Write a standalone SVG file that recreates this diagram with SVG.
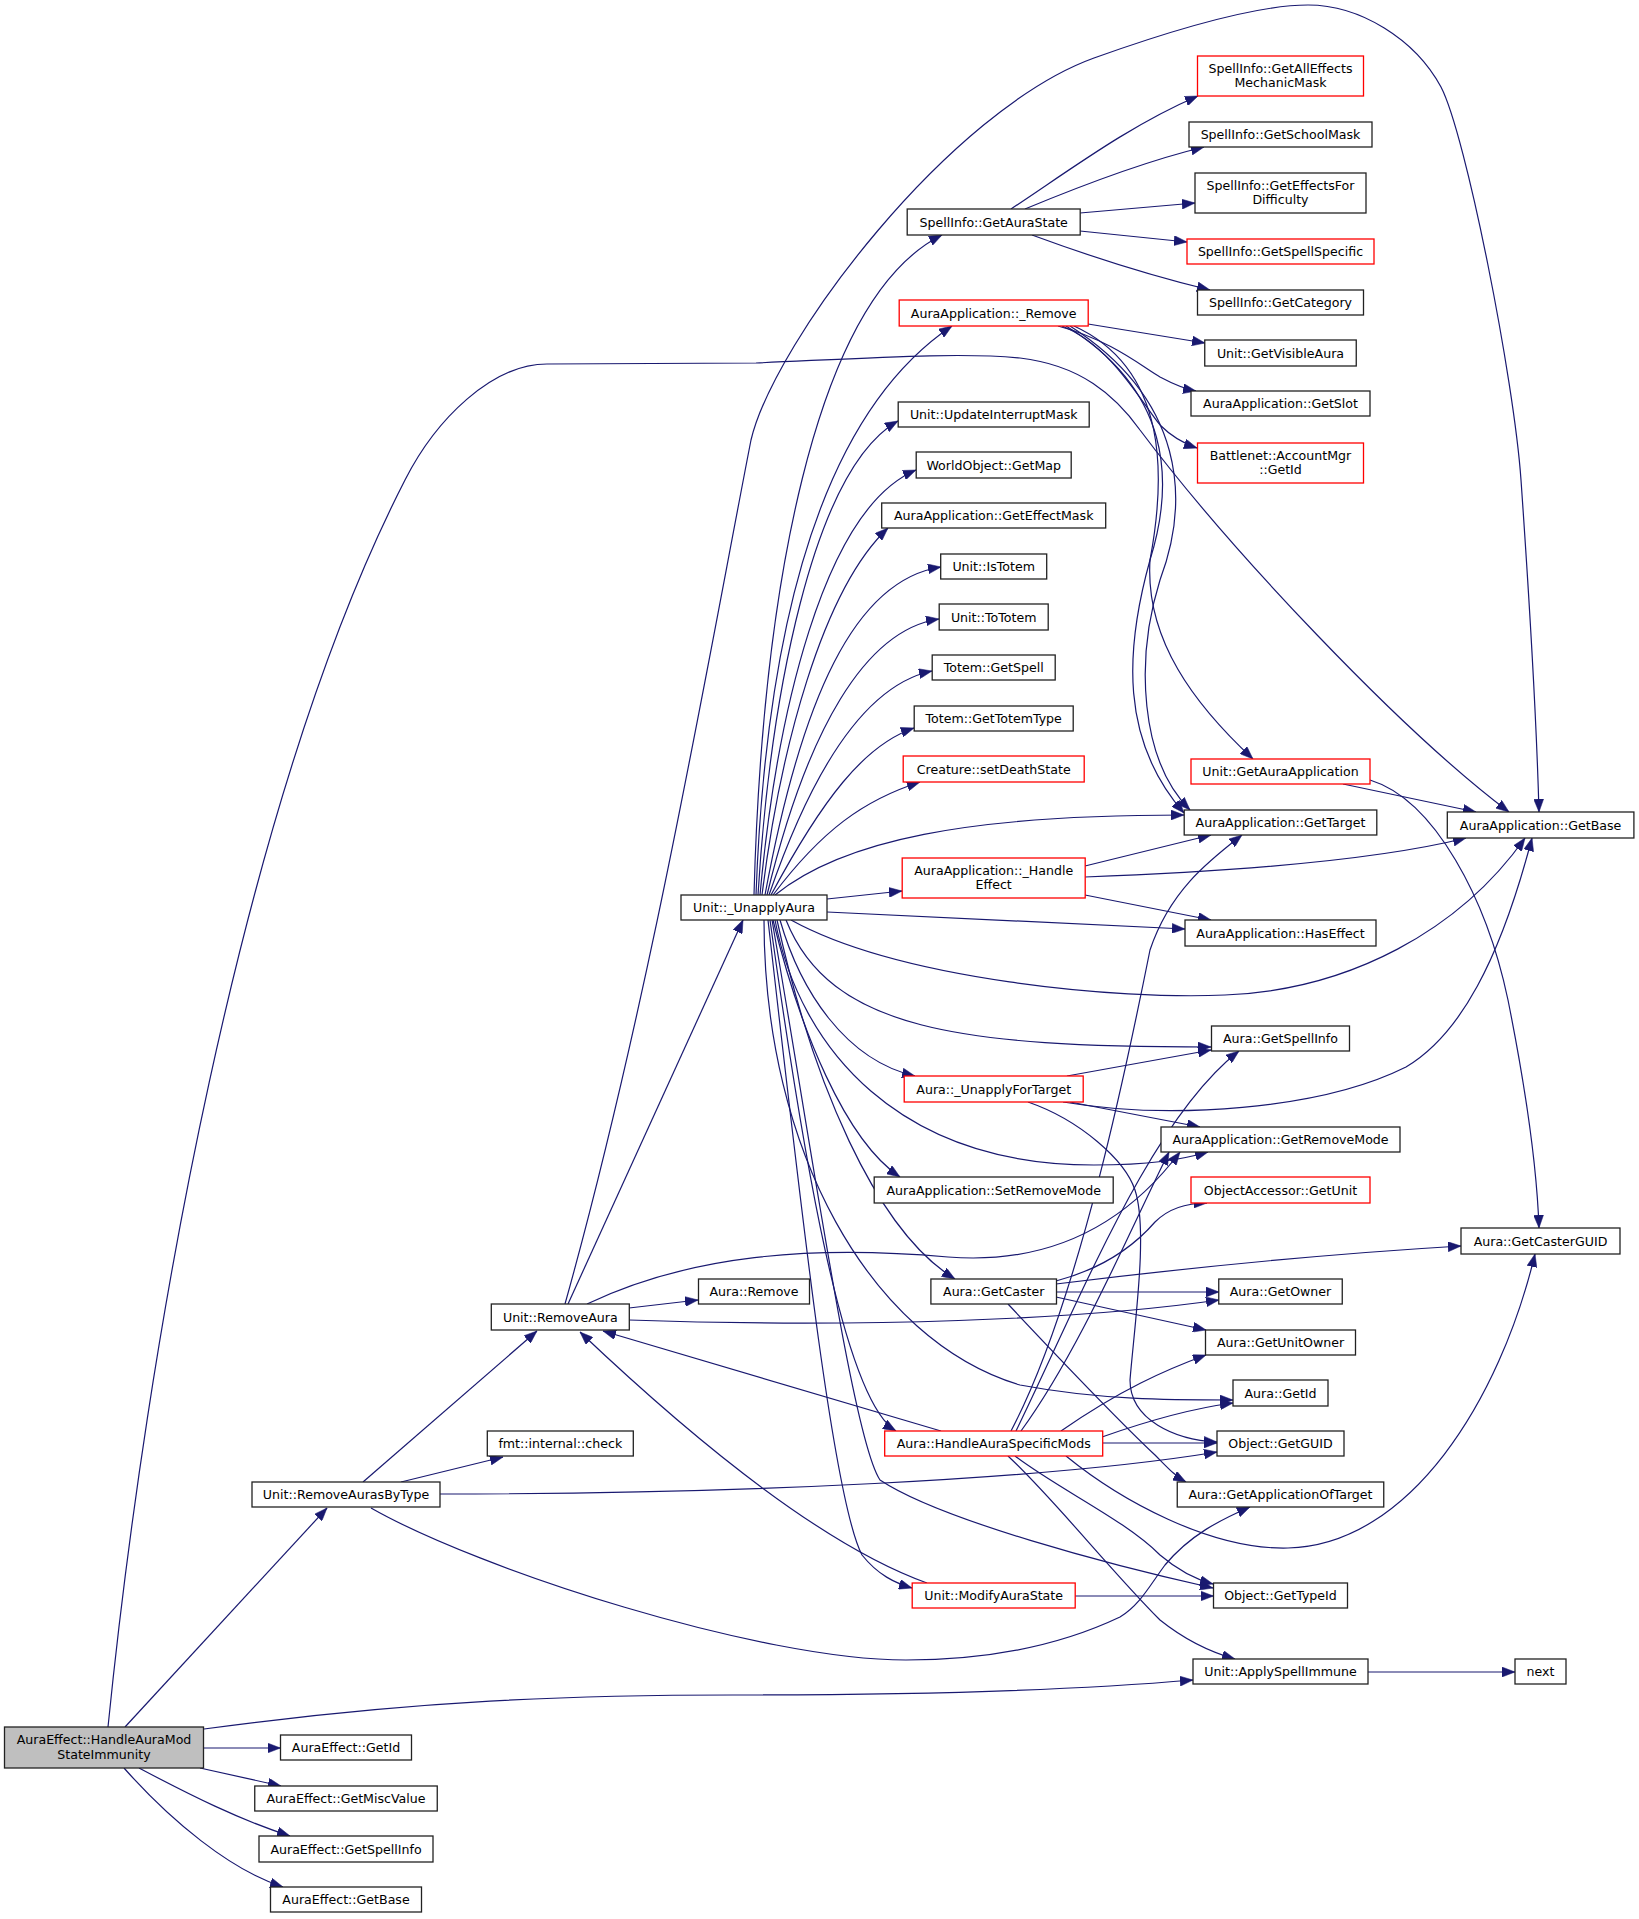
<svg xmlns="http://www.w3.org/2000/svg" width="1639" height="1919" viewBox="0 0 1639 1919">
<style>
.n rect{fill:#fff;stroke:#222;stroke-width:1.3}
.n.red rect{stroke:#f00}
.n.root rect{fill:#bfbfbf}
text{font-family:"DejaVu Sans",sans-serif;font-size:12.6px;text-anchor:middle;fill:#000}
.e path{fill:none;stroke:#191970;stroke-width:1.2;marker-end:url(#arr)}
</style>
<defs>
<marker id="arr" markerUnits="userSpaceOnUse" markerWidth="13" markerHeight="10" viewBox="0 0 13 10" refX="13" refY="5" orient="auto">
<path d="M0,0 L13,5 L0,10 z" fill="#191970" stroke="#191970" stroke-width="0.5"/>
</marker>
</defs>
<rect width="1639" height="1919" fill="#fff"/>
<g id="edges" class="e">
<path d="M108,1727 C146,1350 241,800 405,480 C436,419 492,364 547,364 L756,363 C870,358 960,352 1020,358 C1080,365 1115,395 1140,430 C1230,550 1400,730 1509,812"/>
<path d="M125,1727 L327,1508"/>
<path d="M204,1729 C418,1700 576,1695 733,1695 C946,1695 1100,1688 1193,1680"/>
<path d="M203.5,1748 L280.5,1748"/>
<path d="M200,1768 L281,1786"/>
<path d="M139,1768 C190,1795 240,1820 290,1836"/>
<path d="M124,1768 C170,1820 230,1870 283,1887"/>
<path d="M363,1482 L537,1331"/>
<path d="M401,1482 L503,1457"/>
<path d="M440,1494 C733,1494 1047,1480 1217,1452"/>
<path d="M371,1508 C480,1570 760,1660 906,1660 C1010,1660 1080,1636 1120,1617 C1140,1605 1150,1585 1165,1565 C1190,1535 1220,1520 1250,1507"/>
<path d="M568,1304 L743,920"/>
<path d="M565,1304 C650,1000 710,650 751,440 C775,340 950,110 1094,58 C1150,38 1250,5 1308,5 C1360,5 1415,39 1441,87 C1466,135 1514,380 1521,480 C1528,580 1536,700 1539,812"/>
<path d="M629,1308 L698,1300"/>
<path d="M587,1304 C690,1255 810,1245 948,1257 C1050,1265 1125,1225 1180,1152"/>
<path d="M629,1320 C860,1328 1080,1320 1219,1300"/>
<path d="M754,895 C762,600 812,300 942,235"/>
<path d="M756,895 C765,650 812,420 952,326"/>
<path d="M758,895 C770,700 812,470 898,421"/>
<path d="M760,895 C776,720 822,510 916,470"/>
<path d="M762,895 C780,750 822,590 888,528"/>
<path d="M765,895 C801,700 854,580 941,567"/>
<path d="M767,895 C807,730 865,630 939,619"/>
<path d="M769,895 C812,770 865,685 932,671"/>
<path d="M771,895 C822,800 864,745 914,728"/>
<path d="M773,895 C822,830 864,800 920,782"/>
<path d="M775,895 C843,840 968,815 1184,815"/>
<path d="M827,899 L902,891"/>
<path d="M827,912 L1185,929"/>
<path d="M791,920 C900,980 1120,1000 1225,995 C1350,990 1460,930 1525,838"/>
<path d="M786,920 C830,1030 960,1047 1211,1047"/>
<path d="M780,920 C800,990 845,1060 915,1076"/>
<path d="M775,920 C800,1050 900,1165 1094,1165 C1150,1165 1180,1160 1208,1152"/>
<path d="M773,920 C800,1030 845,1140 900,1177"/>
<path d="M777,920 C812,1080 875,1230 955,1279"/>
<path d="M764,920 C764,1150 870,1340 1020,1385 C1100,1400 1170,1400 1233,1400"/>
<path d="M770,920 C802,1150 843,1400 896,1431"/>
<path d="M772,920 C812,1150 853,1440 880,1480 C940,1520 1110,1565 1213,1588"/>
<path d="M768,920 C800,1200 833,1500 862,1555 C878,1575 895,1583 912,1588"/>
<path d="M1011,209 C1070,170 1130,125 1198,96"/>
<path d="M1025,209 C1090,182 1150,160 1204,147"/>
<path d="M1080,213 L1195,203"/>
<path d="M1080,231 L1187,242"/>
<path d="M1032,235 C1100,260 1160,278 1210,290"/>
<path d="M1088,324 L1205,343"/>
<path d="M1058,326 C1110,340 1140,365 1160,377 C1175,385 1185,389 1196,391"/>
<path d="M1062,326 C1110,345 1140,400 1160,425 C1172,437 1185,444 1197,448"/>
<path d="M1066,326 C1170,390 1175,480 1150,560 C1125,650 1120,740 1184,813"/>
<path d="M1070,326 C1185,400 1190,500 1160,580 C1135,660 1140,760 1190,810"/>
<path d="M1074,326 C1170,370 1165,480 1150,560 C1145,640 1195,705 1253,759"/>
<path d="M1085,866 L1211,835"/>
<path d="M1085,877 C1220,872 1370,862 1466,838"/>
<path d="M1085,895 L1211,920"/>
<path d="M1343,784 L1476,812"/>
<path d="M1370,780 C1435,800 1487,900 1508,1000 C1528,1100 1537,1170 1539,1228"/>
<path d="M1067,1076 L1211,1050"/>
<path d="M1070,1102 L1200,1127"/>
<path d="M1063,1102 C1170,1120 1320,1110 1406,1067 C1460,1035 1500,960 1532,838"/>
<path d="M1028,1102 C1080,1120 1125,1160 1135,1190 C1148,1230 1135,1320 1130,1380 C1130,1420 1175,1440 1217,1442"/>
<path d="M1056,1281 C1105,1268 1135,1245 1155,1222 C1170,1207 1188,1203 1207,1203"/>
<path d="M1056,1284 C1210,1265 1360,1252 1461,1246"/>
<path d="M1056,1292 L1219,1292"/>
<path d="M1056,1297 L1206,1330"/>
<path d="M1008,1304 C1070,1370 1118,1420 1155,1455 C1168,1468 1175,1476 1186,1482"/>
<path d="M941,1431 L603,1331"/>
<path d="M1021,1431 C1080,1350 1130,1230 1169,1152"/>
<path d="M1016,1431 C1080,1300 1150,1120 1239,1051"/>
<path d="M1011,1431 C1080,1300 1130,1050 1150,950 C1170,890 1210,860 1242,835"/>
<path d="M1061,1431 C1120,1390 1165,1370 1206,1355"/>
<path d="M1102,1437 C1150,1420 1195,1408 1233,1403"/>
<path d="M1102.7,1443 L1217,1443"/>
<path d="M1066,1456 C1120,1500 1210,1550 1288,1548 C1410,1545 1500,1400 1535,1254"/>
<path d="M1015,1456 C1060,1490 1125,1520 1160,1555 C1180,1572 1198,1580 1213,1584"/>
<path d="M1008,1456 C1055,1500 1110,1570 1160,1620 C1185,1640 1210,1652 1235,1659"/>
<path d="M927,1583 C835,1550 715,1460 580,1332"/>
<path d="M1075,1596 L1213.5,1596"/>
<path d="M1368,1672 L1515,1672"/>
</g>
<g id="node-root" class="n root"><rect x="4.5" y="1727" width="199" height="41"/><text x="104" y="1744">AuraEffect::HandleAuraMod</text><text x="104" y="1758.5">StateImmunity</text></g>
<g id="node-ae-getid" class="n"><rect x="280.5" y="1735" width="131" height="25"/><text x="346" y="1752">AuraEffect::GetId</text></g>
<g id="node-ae-getmiscvalue" class="n"><rect x="254.75" y="1786" width="182.5" height="25"/><text x="346" y="1803">AuraEffect::GetMiscValue</text></g>
<g id="node-ae-getspellinfo" class="n"><rect x="259" y="1836" width="174" height="26"/><text x="346" y="1853.5">AuraEffect::GetSpellInfo</text></g>
<g id="node-ae-getbase" class="n"><rect x="270.5" y="1887" width="151" height="25"/><text x="346" y="1904">AuraEffect::GetBase</text></g>
<g id="node-removeaurasbytype" class="n"><rect x="252" y="1482" width="188" height="25"/><text x="346" y="1499">Unit::RemoveAurasByType</text></g>
<g id="node-fmtcheck" class="n"><rect x="487.3" y="1431" width="146" height="25"/><text x="560.3" y="1448">fmt::internal::check</text></g>
<g id="node-removeaura" class="n"><rect x="491.3" y="1304" width="138" height="26"/><text x="560.3" y="1321.5">Unit::RemoveAura</text></g>
<g id="node-aura-remove" class="n"><rect x="698.5" y="1279" width="111" height="25"/><text x="754" y="1296">Aura::Remove</text></g>
<g id="node-unapplyaura" class="n"><rect x="681" y="895" width="146" height="25"/><text x="754" y="912">Unit::_UnapplyAura</text></g>
<g id="node-getaurastate" class="n"><rect x="907.2" y="209" width="173" height="26"/><text x="993.7" y="226.5">SpellInfo::GetAuraState</text></g>
<g id="node-aa-remove" class="n red"><rect x="899.2" y="300" width="189" height="26"/><text x="993.7" y="317.5">AuraApplication::_Remove</text></g>
<g id="node-updateinterruptmask" class="n"><rect x="898.2" y="402" width="191" height="25"/><text x="993.7" y="419">Unit::UpdateInterruptMask</text></g>
<g id="node-getmap" class="n"><rect x="916.2" y="452" width="155" height="26"/><text x="993.7" y="469.5">WorldObject::GetMap</text></g>
<g id="node-geteffectmask" class="n"><rect x="881.7" y="503" width="224" height="25"/><text x="993.7" y="520">AuraApplication::GetEffectMask</text></g>
<g id="node-istotem" class="n"><rect x="940.7" y="554" width="106" height="25"/><text x="993.7" y="571">Unit::IsTotem</text></g>
<g id="node-tototem" class="n"><rect x="939.2" y="604" width="109" height="26"/><text x="993.7" y="621.5">Unit::ToTotem</text></g>
<g id="node-totem-getspell" class="n"><rect x="932.2" y="655" width="123" height="25"/><text x="993.7" y="672">Totem::GetSpell</text></g>
<g id="node-gettotemtype" class="n"><rect x="914.2" y="706" width="159" height="25"/><text x="993.7" y="723">Totem::GetTotemType</text></g>
<g id="node-setdeathstate" class="n red"><rect x="903.2" y="756" width="181" height="26"/><text x="993.7" y="773.5">Creature::setDeathState</text></g>
<g id="node-handleeffect" class="n red"><rect x="902.2" y="858" width="183" height="40"/><text x="993.7" y="874.5">AuraApplication::_Handle</text><text x="993.7" y="889">Effect</text></g>
<g id="node-getalleffects" class="n red"><rect x="1197.5" y="56" width="166" height="40"/><text x="1280.5" y="72.5">SpellInfo::GetAllEffects</text><text x="1280.5" y="87">MechanicMask</text></g>
<g id="node-getschoolmask" class="n"><rect x="1189" y="122" width="183" height="25"/><text x="1280.5" y="139">SpellInfo::GetSchoolMask</text></g>
<g id="node-geteffectsfor" class="n"><rect x="1195" y="173" width="171" height="40"/><text x="1280.5" y="189.5">SpellInfo::GetEffectsFor</text><text x="1280.5" y="204">Difficulty</text></g>
<g id="node-getspellspecific" class="n red"><rect x="1187" y="239" width="187" height="25"/><text x="1280.5" y="256">SpellInfo::GetSpellSpecific</text></g>
<g id="node-getcategory" class="n"><rect x="1197.5" y="290" width="166" height="25"/><text x="1280.5" y="307">SpellInfo::GetCategory</text></g>
<g id="node-getvisibleaura" class="n"><rect x="1204.75" y="340" width="151.5" height="26"/><text x="1280.5" y="357.5">Unit::GetVisibleAura</text></g>
<g id="node-getslot" class="n"><rect x="1191" y="391" width="179" height="25"/><text x="1280.5" y="408">AuraApplication::GetSlot</text></g>
<g id="node-battlenet" class="n red"><rect x="1197.5" y="443" width="166" height="40"/><text x="1280.5" y="459.5">Battlenet::AccountMgr</text><text x="1280.5" y="474">::GetId</text></g>
<g id="node-getauraapplication" class="n red"><rect x="1191" y="759" width="179" height="25"/><text x="1280.5" y="776">Unit::GetAuraApplication</text></g>
<g id="node-gettarget" class="n"><rect x="1184.2" y="810" width="192.6" height="25"/><text x="1280.5" y="827">AuraApplication::GetTarget</text></g>
<g id="node-aa-getbase" class="n"><rect x="1447.3" y="812" width="186.6" height="26"/><text x="1540.6" y="829.5">AuraApplication::GetBase</text></g>
<g id="node-haseffect" class="n"><rect x="1185" y="920" width="191" height="26"/><text x="1280.5" y="937.5">AuraApplication::HasEffect</text></g>
<g id="node-aura-getspellinfo" class="n"><rect x="1211.5" y="1026" width="138" height="25"/><text x="1280.5" y="1043">Aura::GetSpellInfo</text></g>
<g id="node-unapplyfortarget" class="n red"><rect x="904.2" y="1076" width="179" height="26"/><text x="993.7" y="1093.5">Aura::_UnapplyForTarget</text></g>
<g id="node-getremovemode" class="n"><rect x="1161" y="1127" width="239" height="25"/><text x="1280.5" y="1144">AuraApplication::GetRemoveMode</text></g>
<g id="node-setremovemode" class="n"><rect x="874.2" y="1177" width="239" height="26"/><text x="993.7" y="1194.5">AuraApplication::SetRemoveMode</text></g>
<g id="node-getunit" class="n red"><rect x="1191" y="1177" width="179" height="26"/><text x="1280.5" y="1194.5">ObjectAccessor::GetUnit</text></g>
<g id="node-getcasterguid" class="n"><rect x="1461" y="1228" width="159" height="26"/><text x="1540.5" y="1245.5">Aura::GetCasterGUID</text></g>
<g id="node-getcaster" class="n"><rect x="930.9" y="1279" width="125.6" height="25"/><text x="993.7" y="1296">Aura::GetCaster</text></g>
<g id="node-getowner" class="n"><rect x="1218.75" y="1279" width="123.5" height="25"/><text x="1280.5" y="1296">Aura::GetOwner</text></g>
<g id="node-getunitowner" class="n"><rect x="1205.5" y="1330" width="150" height="25"/><text x="1280.5" y="1347">Aura::GetUnitOwner</text></g>
<g id="node-aura-getid" class="n"><rect x="1233" y="1380" width="95" height="26"/><text x="1280.5" y="1397.5">Aura::GetId</text></g>
<g id="node-handleauraspecificmods" class="n red"><rect x="884.7" y="1431" width="218" height="25"/><text x="993.7" y="1448">Aura::HandleAuraSpecificMods</text></g>
<g id="node-getguid" class="n"><rect x="1217" y="1431" width="127" height="25"/><text x="1280.5" y="1448">Object::GetGUID</text></g>
<g id="node-getapplicationoftarget" class="n"><rect x="1177.25" y="1482" width="206.5" height="25"/><text x="1280.5" y="1499">Aura::GetApplicationOfTarget</text></g>
<g id="node-modifyaurastate" class="n red"><rect x="912.2" y="1583" width="163" height="25"/><text x="993.7" y="1600">Unit::ModifyAuraState</text></g>
<g id="node-gettypeid" class="n"><rect x="1213.5" y="1583" width="134" height="25"/><text x="1280.5" y="1600">Object::GetTypeId</text></g>
<g id="node-applyspellimmune" class="n"><rect x="1193" y="1659" width="175" height="25"/><text x="1280.5" y="1676">Unit::ApplySpellImmune</text></g>
<g id="node-next" class="n"><rect x="1515" y="1659" width="51" height="25"/><text x="1540.5" y="1676">next</text></g>
</svg>
